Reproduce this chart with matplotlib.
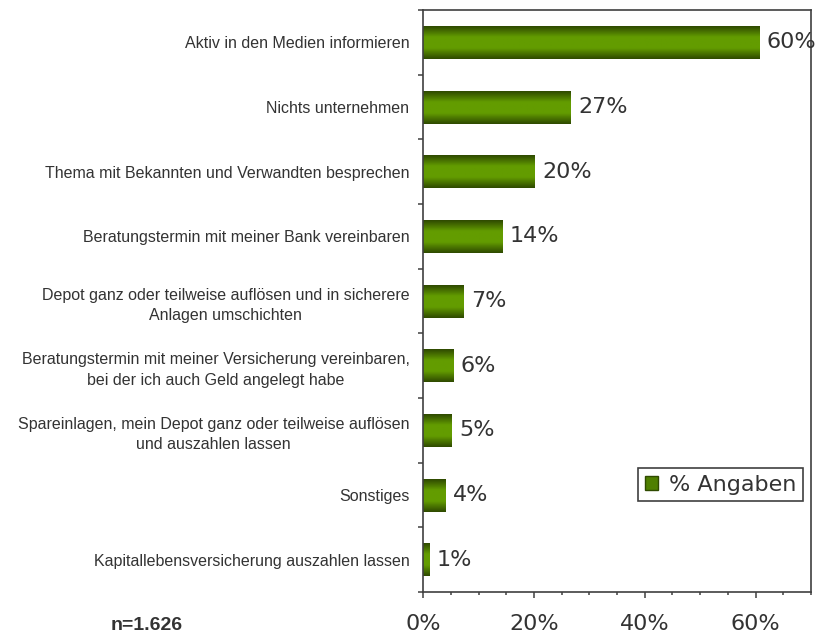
import numpy as np
import matplotlib
matplotlib.use("Agg")
import matplotlib.pyplot as plt
from matplotlib.colors import LinearSegmentedColormap
from matplotlib.ticker import MultipleLocator

# Antworten (von oben nach unten)
kategorien = [
    "Aktiv in den Medien informieren",
    "Nichts unternehmen",
    "Thema mit Bekannten und Verwandten besprechen",
    "Beratungstermin mit meiner Bank vereinbaren",
    "Depot ganz oder teilweise auflösen und in sicherere\nAnlagen umschichten",
    "Beratungstermin mit meiner Versicherung vereinbaren,\nbei der ich auch Geld angelegt habe",
    "Spareinlagen, mein Depot ganz oder teilweise auflösen\nund auszahlen lassen",
    "Sonstiges",
    "Kapitallebensversicherung auszahlen lassen",
]
werte = [60.8, 26.7, 20.2, 14.4, 7.3, 5.5, 5.2, 4.1, 1.2]
wert_labels = ["60%", "27%", "20%", "14%", "7%", "6%", "5%", "4%", "1%"]
x_ticks = [0, 20, 40, 60]
x_labels = ["0%", "20%", "40%", "60%"]

dunkel = "#2f4a00"
hell = "#639c00"
grau = "#404040"
text_farbe = "#333333"

cmap = LinearSegmentedColormap.from_list(
    "gruen", [(0, dunkel), (0.33, hell), (0.67, hell), (1, dunkel)])
grad = np.linspace(0, 1, 64).reshape(-1, 1)

fig = plt.figure(figsize=(8.23, 6.34), dpi=100)
ax = fig.add_axes([0.5143, 0.0662, 0.4710, 0.9180])

y = np.arange(len(kategorien))
bars = ax.barh(y, werte, height=0.51, color="none", edgecolor="none",
               label="% Angaben")

# Farbverlauf in jedem Balken
for b in bars:
    x0, y0, w, h = b.get_x(), b.get_y(), b.get_width(), b.get_height()
    ax.imshow(grad, extent=[x0, x0 + w, y0, y0 + h], aspect="auto",
              cmap=cmap, zorder=2, interpolation="bilinear")

for yi, v, lab in zip(y, werte, wert_labels):
    ax.annotate(lab, (v, yi), xytext=(7, 0), textcoords="offset pixels",
                va="center", ha="left", fontsize=16, color=text_farbe,
                family="DejaVu Sans")

ax.set_xlim(0, 70)
ax.set_ylim(len(kategorien) - 0.5, -0.5)

ax.set_xticks(x_ticks)
ax.set_xticklabels(x_labels, fontsize=16, color=text_farbe, family="DejaVu Sans")
ax.xaxis.set_minor_locator(MultipleLocator(5))
ax.tick_params(axis="x", which="major", length=4.5, width=1.1, color=grau, pad=11)
ax.tick_params(axis="x", which="minor", length=2.5, width=1.1, color=grau)

ax.set_yticks(np.arange(-0.5, len(kategorien), 1))
ax.set_yticklabels([])
ax.set_yticks(y, minor=True)
ax.set_yticklabels(kategorien, minor=True, fontsize=11.5, color=text_farbe,
                   family="Liberation Sans")
for t in ax.get_yticklabels(minor=True):
    t.set_multialignment("center")
    t.set_linespacing(1.45)
ax.tick_params(axis="y", which="major", length=3.6, width=1.1, color=grau)
ax.tick_params(axis="y", which="minor", length=0, pad=10)

for s in ax.spines.values():
    s.set_color(grau)
    s.set_linewidth(1.2)

leg = ax.legend(loc="upper right", bbox_to_anchor=(0.98, 0.213),
                borderaxespad=0, fancybox=False, framealpha=1,
                edgecolor=grau, handlelength=0.6, handleheight=0.6,
                handletextpad=0.5, borderpad=0.3,
                prop={"family": "DejaVu Sans", "size": 16})
leg.get_frame().set_linewidth(1.2)
for h in leg.legend_handles:
    h.set_facecolor("#4f7f00")
    h.set_edgecolor(dunkel)
for t in leg.get_texts():
    t.set_color(text_farbe)

fig.text(146.5 / 823, 1 - 625 / 634, "n=1.626", ha="center", va="center",
         fontsize=14, fontweight="bold", color=text_farbe,
         family="Liberation Sans")

fig.savefig("out.png", dpi=100)
